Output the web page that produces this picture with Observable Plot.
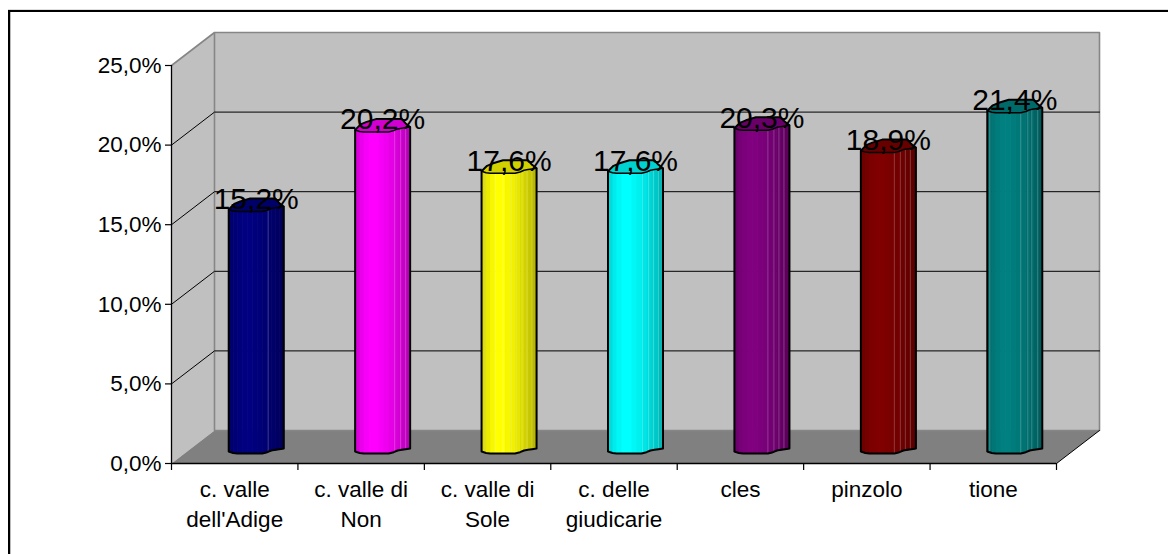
<!DOCTYPE html>
<html>
<head>
<meta charset="utf-8">
<script src="https://cdn.jsdelivr.net/npm/d3@7"></script>
<script src="https://cdn.jsdelivr.net/npm/@observablehq/plot@0.6"></script>
<style>
html,body{margin:0;padding:0;background:#fff;width:1168px;height:554px;overflow:hidden}
#chart{position:absolute;left:0;top:0}
#chart svg{display:block}
#border{position:absolute;left:8px;top:10px;right:0;bottom:0;border-left:2.5px solid #000;border-top:2px solid #000;box-shadow:inset 1px 0 0 #bbb,0 -1px 0 #ddd;pointer-events:none}
</style>
</head>
<body>
<div id="chart"></div>
<div id="border"></div>
<script>
const categories = ["c. valle\ndell'Adige","c. valle di\nNon","c. valle di\nSole","c. delle\ngiudicarie","cles","pinzolo","tione"];
const values = [15.2,20.2,17.6,17.6,20.3,18.9,21.4];
const labels = ["15,2%","20,2%","17,6%","17,6%","20,3%","18,9%","21,4%"];
const colors = ["#000080","#ff00ff","#ffff00","#00ffff","#800080","#800000","#008080"];
const yTicks = [0,5,10,15,20,25];
const seamSets = [[12],[12,18,23],[-24,-14,-6,2,7,13,18,23],[7,13,18,23],[6,12,17,22],[6,12,17,22],[-25,6,13,17,23]];

const W=1168,H=554,mL=171,mR=112,mT=65,mB=91;
const ux=7/(W-mL-mR), uy=25/(H-mT-mB);
const depthX=43*ux, depthY=33*uy;
// cylinder cross-section, in pixels around the bar axis
const stripU =[-27.5,-23,-19,-14,-9,-4,1,6,11,15,19,23,27.5];
const rimFront=[4.5,6,6.5,6.5,6.5,6.5,6.5,6.5,5.2,3.5,2.8,2.2,1.5];
const shades=[.86,.92,.97,1,1,.97,.94,.9,.86,.82,.78,.72];
const backU=[27.5,23,19,10,-6,-16,-22,-27.5];
const rimBack=[1.5,-2,-6.5,-6.5,-6.5,-3.5,-1,4.5];

const shade=(c,f)=>{const r=d3.rgb(c);return d3.rgb(r.r*f,r.g*f,r.b*f).formatHex();};
const cx=i=>i+.5+depthX/2, base=depthY/2;

const strips=[],tops=[],outlines=[],seams=[],rims=[];
values.forEach((v,i)=>{
  const c=colors[i];
  shades.forEach((s,k)=>{
    const id=i+"-"+k, color=shade(c,s);
    const p=(u,r,val)=>({id,color,x:cx(i)+u*ux,y:base+val-r*uy});
    strips.push(p(stripU[k],rimFront[k],0),p(stripU[k+1],rimFront[k+1],0),p(stripU[k+1],rimFront[k+1],v),p(stripU[k],rimFront[k],v));
  });
  const pt=(u,r,val)=>({id:i,color:shade(c,.82),x:cx(i)+u*ux,y:base+val-r*uy});
  stripU.forEach((u,k)=>tops.push(pt(u,rimFront[k],v)));
  backU.forEach((u,k)=>tops.push(pt(u,rimBack[k],v)));
  stripU.forEach((u,k)=>outlines.push(pt(u,rimFront[k],0)));
  outlines.push(pt(27.5,1.5,v));
  backU.forEach((u,k)=>outlines.push(pt(u,rimBack[k],v)));
  outlines.push(pt(-27.5,4.5,0));
  stripU.forEach((u,k)=>rims.push(pt(u,rimFront[k],v)));
  seamSets[i].forEach((u,n)=>{
    const r=d3.scaleLinear(stripU,rimFront)(u);
    seams.push({id:i+"-"+n,x:cx(i)+u*ux,y:base-r*uy},{id:i+"-"+n,x:cx(i)+u*ux,y:base+v-r*uy});
  });
});

const backWall=[{x:depthX,y:depthY},{x:7+depthX,y:depthY},{x:7+depthX,y:25+depthY},{x:depthX,y:25+depthY}];
const leftWall=[{x:0,y:0},{x:depthX,y:depthY},{x:depthX,y:25+depthY},{x:0,y:25}];
const floor=[{x:0,y:0},{x:7,y:0},{x:7+depthX,y:depthY},{x:depthX,y:depthY}];
const grid=yTicks.filter(t=>t>0&&t<25).flatMap(t=>[{t,x:0,y:t},{t,x:depthX,y:t+depthY},{t,x:7+depthX,y:t+depthY}]);
const wallEdge=[{x:0,y:25},{x:depthX,y:25+depthY},{x:7+depthX,y:25+depthY},{x:7+depthX,y:depthY},{x:depthX,y:depthY},{x:depthX,y:25+depthY}];
const floorEdge=[{x:7,y:0},{x:7+depthX,y:depthY}];
const xy={x:"x",y:"y"};

const plot=Plot.plot({
  width:W,height:H,marginLeft:mL,marginRight:mR,marginTop:mT,marginBottom:mB,
  style:{fontFamily:"'Liberation Sans',Arial,sans-serif",background:"#fff",color:"#000",overflow:"visible"},
  x:{domain:[0,7],axis:null},
  y:{domain:[0,25],axis:null},
  marks:[
    Plot.line(backWall,{...xy,fill:"#c0c0c0",stroke:"none"}),
    Plot.line(leftWall,{...xy,fill:"#c0c0c0",stroke:"none"}),
    Plot.line(floor,{...xy,fill:"#808080",stroke:"none"}),
    Plot.line(wallEdge,{...xy,stroke:"#868686",strokeWidth:1.6}),
    Plot.line(grid,{...xy,z:"t",stroke:"#000",strokeWidth:1}),
    Plot.line(floorEdge,{...xy,stroke:"#000",strokeWidth:1}),
    Plot.ruleX([0],{y1:0,y2:25,stroke:"#000",strokeWidth:1.3}),
    Plot.ruleY([0],{x1:0,x2:7,stroke:"#000",strokeWidth:1.3}),
    Plot.axisY({ticks:yTicks,tickSize:6,tickPadding:4,tickFormat:d=>d.toFixed(1).replace(".",",")+"%",fontSize:22.5,label:null,stroke:"#000",strokeWidth:1.2}),
    Plot.axisX({ticks:d3.range(8),tickSize:7,tickFormat:()=>"",label:null,stroke:"#000",strokeWidth:1.2}),
    Plot.text(categories,{x:(d,i)=>i+.5,y:()=>0,text:d=>d,lineAnchor:"top",dy:13,lineHeight:1.31,fontSize:22.5,fill:"#000"}),
    Plot.line(strips,{...xy,z:"id",fill:{value:"color",scale:null},stroke:{value:"color",scale:null},strokeWidth:1.2}),
    Plot.line(seams,{...xy,z:"id",stroke:"#fff",strokeOpacity:.22,strokeWidth:1}),
    Plot.line(tops,{...xy,z:"id",fill:{value:"color",scale:null},stroke:"none"}),
    Plot.line(outlines,{...xy,z:"id",stroke:"#000",strokeWidth:2}),
    Plot.line(rims,{...xy,z:"id",stroke:"#000",strokeWidth:1.5}),
    Plot.text(labels,{x:(d,i)=>cx(i),y:(d,i)=>values[i]+base,text:d=>d,textAnchor:"middle",lineAnchor:"bottom",dy:4,fontSize:30,fill:"#000"})
  ]
});
document.getElementById("chart").appendChild(plot);
</script>
</body>
</html>
